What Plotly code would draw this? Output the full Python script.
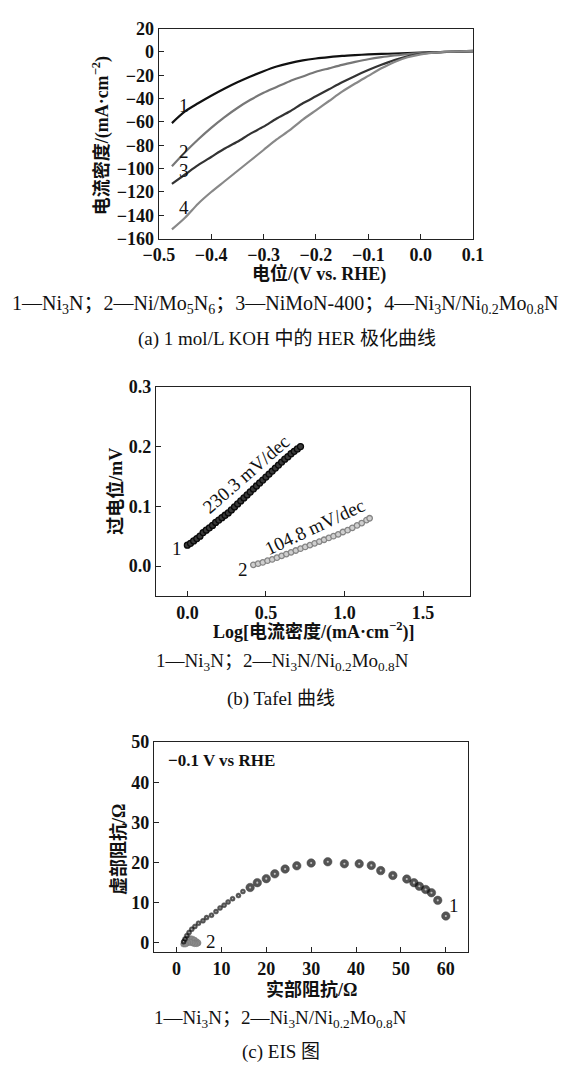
import plotly.graph_objects as go

# ---------------- data ----------------
# (a) HER polarization curves
her_x = [-0.475, -0.45, -0.425, -0.40, -0.375, -0.35, -0.325, -0.30, -0.275, -0.25, -0.225,
         -0.20, -0.175, -0.15, -0.125, -0.10, -0.075, -0.05, -0.025, 0.0, 0.025, 0.05, 0.075, 0.10]
her_1 = [-61, -51, -44, -37.5, -31.5, -26, -21, -16.5, -12.5, -9.5, -7.2,
         -5.6, -4.4, -3.4, -2.7, -2.1, -1.7, -1.3, -0.9, -0.5, -0.2, 0.1, 0.3, 0.5]
her_2 = [-98, -86, -75, -65, -56, -48, -41, -35, -30, -25, -21,
         -17, -14, -11, -8.5, -6.2, -4.4, -3.0, -1.8, -1.0, -0.4, 0.0, 0.3, 0.6]
her_3 = [-113, -105, -97, -90, -83, -77, -70, -64, -57, -51, -44,
         -38, -32, -26, -20.5, -15.5, -11, -7, -3.8, -1.5, -0.3, 0.2, 0.6, 1.0]
her_4 = [-152, -142, -130, -120, -111, -102, -93, -84, -75, -67, -58,
         -50, -42, -34, -27, -20.5, -14, -8.5, -4.5, -2.0, -0.5, 0.2, 0.6, 1.0]
her_labels = ["1", "2", "3", "4"]
her_label_y = [-46, -85, -102, -133]

# (b) Tafel curves
tafel1_x = [0.00, 0.02, 0.04, 0.06, 0.08, 0.10, 0.12, 0.14, 0.16, 0.18, 0.20, 0.22, 0.24, 0.26,
            0.28, 0.30, 0.32, 0.34, 0.36, 0.38, 0.40, 0.42, 0.44, 0.46, 0.48, 0.50, 0.52, 0.54,
            0.56, 0.58, 0.60, 0.62, 0.64, 0.66, 0.68, 0.70, 0.72]
tafel1_y = [0.035, 0.038, 0.042, 0.046, 0.050, 0.056, 0.060, 0.064, 0.068, 0.073, 0.077, 0.081,
            0.085, 0.089, 0.094, 0.099, 0.104, 0.109, 0.114, 0.119, 0.124, 0.129, 0.134, 0.139,
            0.144, 0.149, 0.154, 0.159, 0.164, 0.169, 0.174, 0.179, 0.183, 0.188, 0.192, 0.196, 0.200]
tafel2_x = [0.42, 0.45, 0.48, 0.51, 0.54, 0.57, 0.60, 0.63, 0.66, 0.69, 0.72, 0.75, 0.78, 0.81,
            0.84, 0.87, 0.90, 0.93, 0.96, 0.99, 1.02, 1.05, 1.08, 1.11, 1.14, 1.16]
tafel2_y = [0.002, 0.004, 0.006, 0.009, 0.011, 0.014, 0.017, 0.020, 0.023, 0.026, 0.029, 0.032,
            0.035, 0.038, 0.041, 0.044, 0.047, 0.050, 0.053, 0.057, 0.060, 0.064, 0.068, 0.072,
            0.077, 0.080]

# (c) EIS
eis1_re = [1.6, 1.9, 2.3, 2.8, 3.4, 4.1, 4.9, 5.9, 6.7, 7.8, 8.8, 9.7, 10.6, 11.5, 12.5, 13.8,
           14.8, 16.4, 18.0, 20.0, 21.9, 24.2, 26.8, 30.0, 33.7, 37.4, 40.7, 43.4, 45.5, 48.2,
           51.3, 52.9, 54.1, 55.5, 56.8, 58.2, 60.0]
eis1_im = [0.3, 1.0, 1.8, 2.6, 3.4, 4.1, 4.9, 5.5, 6.3, 6.9, 7.8, 8.7, 9.4, 10.2, 11.0, 11.8,
           12.8, 13.8, 15.0, 16.0, 17.2, 18.4, 19.2, 19.9, 20.2, 19.7, 19.7, 19.3, 18.0, 16.8,
           15.9, 15.0, 14.1, 13.3, 12.5, 10.6, 6.7]
eis2_re = [1.6, 1.8, 2.1, 2.5, 3.0, 3.5, 4.0, 4.5, 4.8, 4.5, 4.0, 3.5, 3.0, 2.5, 2.0]
eis2_im = [-0.3, 0.3, 0.7, 1.0, 1.1, 1.0, 0.7, 0.3, 0.0, -0.2, -0.2, 0.0, 0.2, 0.0, -0.3]

SERIF = "Liberation Serif, Noto Sans CJK SC"
fig = go.Figure()

# panel a
for ys, col in zip([her_1, her_2, her_3, her_4], ["#111111", "#777777", "#333333", "#888888"]):
    fig.add_trace(go.Scatter(x=her_x, y=ys, mode="lines",
                             line=dict(color=col, width=2.2, shape="spline", smoothing=0.8),
                             xaxis="x", yaxis="y", showlegend=False))
# panel b
fig.add_trace(go.Scatter(x=tafel1_x, y=tafel1_y, mode="markers", xaxis="x2", yaxis="y2",
                         marker=dict(size=6, color="#3a3a3a", line=dict(color="#0a0a0a", width=1.3)),
                         showlegend=False))
fig.add_trace(go.Scatter(x=tafel2_x, y=tafel2_y, mode="markers", xaxis="x2", yaxis="y2",
                         marker=dict(size=5.5, color="#cfcfcf", line=dict(color="#858585", width=1.3)),
                         showlegend=False))
# panel c
fig.add_trace(go.Scatter(x=eis2_re, y=eis2_im, mode="markers", xaxis="x3", yaxis="y3",
                         marker=dict(size=6, color="#8a8a8a", line=dict(color="#777777", width=0.5)),
                         showlegend=False))
eis_sizes = [5 if v < 15 else 8.5 for v in eis1_re]
fig.add_trace(go.Scatter(x=eis1_re, y=eis1_im, mode="markers", xaxis="x3", yaxis="y3",
                         marker=dict(size=eis_sizes, color="#0d0d0d",
                                     line=dict(color="#000000", width=0.5)),
                         showlegend=False))
fig.add_trace(go.Scatter(x=eis1_re, y=eis1_im, mode="markers", xaxis="x3", yaxis="y3",
                         marker=dict(size=[s * 0.25 for s in eis_sizes], color="#f2f2f2",
                                     line=dict(width=0)),
                         showlegend=False))

W, H = 564, 1075
def px(x): return x / W
def py(y): return 1 - y / H

axis_common = dict(showline=True, linecolor="#222", linewidth=1.3, mirror=True, ticks="inside",
                   ticklen=5, tickcolor="#222", showgrid=False, zeroline=False,
                   tickfont=dict(family=SERIF, size=18, color="#111", weight="bold"))

fig.update_layout(
    width=W, height=H, margin=dict(l=0, r=0, t=0, b=0),
    paper_bgcolor="white", plot_bgcolor="white",
    xaxis=dict(domain=[px(150), px(480)], anchor="y", range=[-0.5, 0.1], dtick=0.1,
               tickformat=".1f", **axis_common),
    yaxis=dict(domain=[py(233), py(19)], anchor="x", range=[-160, 20], dtick=20, **axis_common),
    xaxis2=dict(domain=[px(147), px(477)], anchor="y2", range=[-0.2, 1.8], dtick=0.5,
                tickformat=".1f", **axis_common),
    yaxis2=dict(domain=[py(597), py(384)], anchor="x2", range=[-0.05, 0.3], dtick=0.1,
                tickformat=".1f", **axis_common),
    xaxis3=dict(domain=[px(145), px(475)], anchor="y3", range=[-5, 65], dtick=10, **axis_common),
    yaxis3=dict(domain=[py(960), py(746)], anchor="x3", range=[-2.3, 50], dtick=10, **axis_common),
)

ann = []
def txt(x, y, text, size=18, bold=False, xref="paper", yref="paper", angle=0, xanchor="center"):
    ann.append(dict(x=x, y=y, xref=xref, yref=yref, text=text, showarrow=False, textangle=angle,
                    xanchor=xanchor, yanchor="middle",
                    font=dict(family=SERIF, size=size, color="#111", weight="bold" if bold else "normal")))

# panel a texts
for lab, ly in zip(her_labels, her_label_y):
    txt(-0.452, ly, lab, size=19, xref="x", yref="y")
txt(px(318), py(269), "电位/(V vs. RHE)", bold=True)
txt(px(89), py(128), "电流密度/(mA·cm<sup>−2</sup>)", bold=True, angle=-90)
txt(px(282), py(300), "1—Ni<sub>3</sub>N；2—Ni/Mo<sub>5</sub>N<sub>6</sub>；3—NiMoN-400；4—Ni<sub>3</sub>N/Ni<sub>0.2</sub>Mo<sub>0.8</sub>N", size=20)
txt(px(285), py(335), "(a) 1 mol/L KOH 中的 HER 极化曲线", size=19)

# panel b texts
txt(-0.065, 0.030, "1", size=19, xref="x2", yref="y2")
txt(0.355, -0.005, "2", size=19, xref="x2", yref="y2")
txt(0.37, 0.154, "230.3 mV/dec", size=19, xref="x2", yref="y2", angle=-41)
txt(0.815, 0.066, "104.8 mV/dec", size=19, xref="x2", yref="y2", angle=-25)
txt(px(312), py(633), "Log[电流密度/(mA·cm<sup>−2</sup>)]", bold=True)
txt(px(105), py(490), "过电位/mV", bold=True, angle=-90)
txt(px(280), py(664), "1—Ni<sub>3</sub>N；2—Ni<sub>3</sub>N/Ni<sub>0.2</sub>Mo<sub>0.8</sub>N", size=19)
txt(px(278), py(702), "(b) Tafel 曲线", size=19)

# panel c texts
txt(61.8, 9.3, "1", size=19, xref="x3", yref="y3")
txt(7.6, 0.4, "2", size=19, xref="x3", yref="y3")
txt(-2.4, 45.5, "−0.1 V vs RHE", size=17, bold=True, xref="x3", yref="y3", xanchor="left")
txt(px(310), py(998), "实部阻抗/Ω", bold=True)
txt(px(107), py(855), "虚部阻抗/Ω", bold=True, angle=-90)
txt(px(278), py(1028), "1—Ni<sub>3</sub>N；2—Ni<sub>3</sub>N/Ni<sub>0.2</sub>Mo<sub>0.8</sub>N", size=19)
txt(px(278), py(1062), "(c) EIS 图", size=19)

fig.update_layout(annotations=ann)
fig.write_html("out.html", config={"displayModeBar": False},
               post_script="document.body.style.margin='0';document.body.style.overflow='hidden';")
